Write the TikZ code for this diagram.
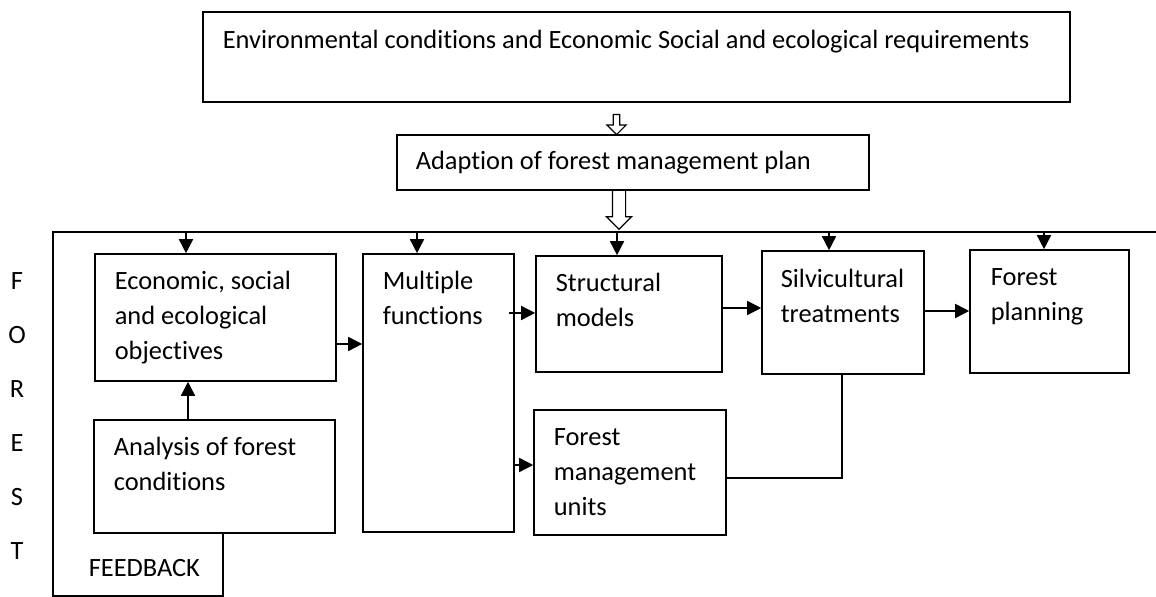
\documentclass[tikz,border=0pt]{standalone}
\usepackage{fontspec}
\setmainfont{Carlito}[Ligatures=CommonOff]
\usetikzlibrary{shapes.arrows, arrows.meta, fit, positioning}

\begin{document}
\begin{tikzpicture}[x=0.5pt, y=-0.5pt, line width=0.8pt,
    font=\fontsize{13.2}{17.5}\selectfont,
    box/.style={draw, inner sep=0pt},
    txt/.style={anchor=base west, align=left, inner sep=0pt},
    link/.style={-{Triangle[length=7pt, width=7pt]}},
    hollow/.style={single arrow, draw, fill=white, line width=0.6pt, shape border rotate=270}]
    \useasboundingbox (0,0) rectangle (1156,597);

    % top boxes
    \node[box, fit={(203,12) (1070,102)}] (env) {};
    \node[txt] (envtxt) at (222,49) {Environmental conditions and Economic Social and ecological requirements};
    \node[box, fit={(397,135) (869,190)}] (adapt) {};
    \node[txt] (adapttxt) at (415,170) {Adaption of forest management plan};

    % hollow arrows
    \node[hollow, inner sep=1.3pt, minimum height=10pt, single arrow head extend=3.2pt] (down1) at (616.5,123) {};
    \node[hollow, inner sep=3pt, minimum height=19.5pt, single arrow head extend=3pt] (down2) at (619,206.5) {};

    % main row (text nodes sit on the baseline of their last line)
    \node[box, fit={(95,254) (336,381)}] (econ) {};
    \node[txt] (econtxt) at (114,360) {Economic, social\\and ecological\\objectives};
    \node[box, fit={(94,420) (335,533)}] (anal) {};
    \node[txt] (analtxt) at (113,491) {Analysis of forest\\conditions};
    \node[box, fit={(363,254) (514,532)}] (multi) {};
    \node[txt] (multitxt) at (382,325) {Multiple\\functions};
    \node[box, fit={(536,256) (722,372)}] (struct) {};
    \node[txt] (structtxt) at (555,327) {Structural\\models};
    \node[box, fit={(762,251) (924,374)}] (silv) {};
    \node[txt] (silvtxt) at (780,323) {Silvicultural\\treatments};
    \node[box, fit={(970,250) (1129,373)}] (plan) {};
    \node[txt] (plantxt) at (990,321) {Forest\\planning};
    \node[box, fit={(534,410) (726,535)}] (fmu) {};
    \node[txt] (fmutxt) at (553,516) {Forest\\management\\units};

    % forest frame and feedback loop
    \coordinate (tl) at (53,232);
    \coordinate (tr) at (1156,232);
    \coordinate (bl) at (53,596);
    \coordinate (fb) at (223,596);
    \draw (anal.south -| fb) -- (fb) -- (bl) -- (tl) -- (tr);
    \node[txt] (fbtxt) at (88,577) {FEEDBACK};
    \foreach \ch [count=\i] in {F,O,R,E,S,T}
        \node[anchor=base, inner sep=0pt] (letter\i) at ({17},{290+54*(\i-1)}) {\ch};

    % arrows from the frame
    \foreach \n/\x in {econ/186, multi/417, struct/617, silv/829, plan/1044}
        \draw[link] (\x,232) -- (\n.north -| \x,0);

    % links between boxes
    \draw[link] (econ.east |- 0,344) -- (multi.west |- 0,344);
    \draw[link] (anal.north -| 188,0) -- (econ.south -| 188,0);
    \draw[link] ([xshift=-3pt]multi.east |- 0,313) -- (struct.west |- 0,313);
    \draw[link] (multi.east |- 0,465) -- (fmu.west |- 0,465);
    \draw[link] (struct.east |- 0,308) -- (silv.west |- 0,308);
    \draw[link] (silv.east |- 0,311) -- (plan.west |- 0,311);
    \draw (fmu.east |- 0,478) -- (842,478) -- (silv.south -| 842,0);
\end{tikzpicture}
\end{document}
